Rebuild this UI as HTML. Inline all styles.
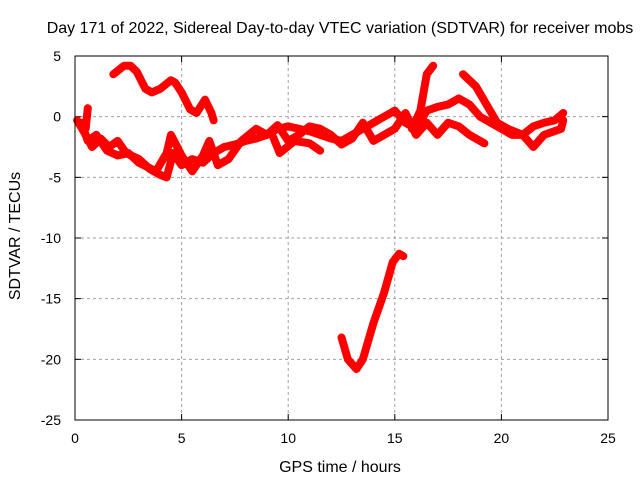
<!DOCTYPE html>
<html><head><meta charset="utf-8"><style>
body{margin:0;background:#fff}
svg text{font-family:"Liberation Sans",sans-serif;font-size:14px;fill:#000}
svg text.big{font-size:16px}
</style></head><body>
<svg id="c" width="640" height="480">
<rect width="640" height="480" fill="#fff"/>
<g id="grid"></g><g id="ticks"></g><g id="series"></g>
<rect x="75" y="56" width="533" height="364" fill="none" stroke="#000" stroke-width="1"/>
<text class="big" x="340" y="33" text-anchor="middle">Day 171 of 2022, Sidereal Day-to-day VTEC variation (SDTVAR) for receiver mobs</text>
<text class="big" x="340" y="472" text-anchor="middle">GPS time / hours</text>
<text class="big" x="0" y="0" text-anchor="middle" transform="translate(20,236) rotate(-90)">SDTVAR / TECUs</text>
</svg>
<script>
const xTicks=[0,5,10,15,20,25];
const yTicks=[5,0,-5,-10,-15,-20,-25];
const trackUpper=[[1.8,3.5],[2.3,4.2],[2.6,4.2],[2.9,3.7],[3.3,2.3],[3.6,2.0],[4.0,2.3],[4.5,3.0],[4.7,2.8],[5.0,2.0],[5.4,0.6],[5.7,0.3],[6.1,1.4],[6.4,0.3],[6.5,-0.3]];
const trackMain=[[0.1,-0.3],[0.5,-1.5],[0.8,-2.5],[1.2,-1.8],[1.6,-2.5],[2.0,-2.0],[2.4,-3.0],[3.0,-3.5],[3.5,-4.3],[4.0,-4.8],[4.3,-5.0],[4.6,-3.0],[5.0,-4.0],[5.5,-3.5],[6.0,-3.8],[6.5,-3.0],[7.0,-2.5],[7.5,-2.3],[8.0,-2.0],[8.5,-1.8],[9.0,-1.5],[9.5,-1.0],[10,-0.8],[10.5,-1.0],[11,-1.2],[11.5,-1.5],[12.0,-1.8],[12.5,-2.0],[13.0,-1.5],[13.5,-1.0],[14,-0.5],[14.5,0.0],[15,0.5],[15.5,-0.5],[16,-1.0],[16.5,0.5],[17,0.8],[17.5,1.0],[18,1.5],[18.5,1.0],[19,0.0],[19.5,-0.5],[20,-1.0],[20.5,-1.5],[21,-1.5],[21.5,-0.8],[22,-0.5],[22.5,-0.3],[22.9,0.3]];
const trackSecond=[[0.3,-0.5],[0.6,-2.0],[1.0,-1.5],[1.5,-2.8],[2.0,-3.2],[2.5,-3.0],[3.0,-3.8],[3.8,-4.5],[4.3,-3.0],[4.5,-1.5],[5.0,-3.2],[5.5,-4.5],[6.0,-3.2],[6.3,-2.0],[6.7,-4.0],[7.2,-3.5],[7.8,-2.0],[8.5,-1.0],[9.0,-1.5],[9.5,-0.7],[10.0,-2.0],[10.5,-1.5],[11.0,-0.8],[11.5,-1.0],[12.0,-1.5],[12.5,-2.3],[13.0,-1.8],[13.5,-0.5],[14.0,-2.0],[14.5,-1.5],[15.0,-1.0],[15.5,0.3],[16.0,-1.5],[16.5,-0.5],[17.0,-1.5],[17.5,-0.5],[18.0,-0.8],[18.5,-1.5],[19.2,-2.2]];
const trackSpike=[[0.5,-1.0],[0.6,0.7]];
const trackSpike2=[[15.8,-1.0],[16.2,0.5],[16.5,3.5],[16.8,4.2]];
const trackLate=[[18.2,3.5],[18.8,2.5],[19.3,1.0],[19.8,-0.5],[20.3,-1.0],[21.0,-1.5],[21.5,-2.5],[22.0,-1.5],[22.8,-1.0],[22.9,-0.3]];
const trackMid=[[9.3,-1.7],[9.6,-3.0],[10.3,-2.0],[11,-2.2],[11.5,-2.8]];
const trackDrop=[[12.5,-18.2],[12.8,-20.0],[13.2,-20.8],[13.5,-20.0],[14.0,-17.0],[14.5,-14.5],[14.9,-12.0],[15.2,-11.3],[15.4,-11.5]];
const tracks=[trackUpper,trackMain,trackSecond,trackSpike,trackSpike2,trackLate,trackMid,trackDrop];
const NS="http://www.w3.org/2000/svg";
const X=h=>75+h*533/25, Y=v=>56+(5-v)*364/30;
const g=document.getElementById('grid'),t=document.getElementById('ticks'),s=document.getElementById('series');
function mk(p,tag,a){const e=document.createElementNS(NS,tag);for(const k in a)e.setAttribute(k,a[k]);p.appendChild(e);return e;}
xTicks.forEach(v=>{const x=X(v);
 if(v>0&&v<25){const l=mk(g,'line',{x1:x,x2:x,y1:56,y2:420,stroke:'#a0a0a0','stroke-dasharray':'3,3'});
 
 }
 mk(t,'line',{x1:x,x2:x,y1:420,y2:414,stroke:'#000'});mk(t,'line',{x1:x,x2:x,y1:56,y2:62,stroke:'#000'});
 const tx=mk(t,'text',{x:x,y:443,'text-anchor':'middle'});tx.textContent=v;
 
 });
yTicks.forEach(v=>{const y=Y(v);
 if(v<5&&v>-25){const l=mk(g,'line',{x1:75,x2:608,y1:y,y2:y,stroke:'#a0a0a0','stroke-dasharray':'3,3'});
 
 }
 mk(t,'line',{x1:75,x2:81,y1:y,y2:y,stroke:'#000'});mk(t,'line',{x1:608,x2:602,y1:y,y2:y,stroke:'#000'});
 const tx=mk(t,'text',{x:61,y:y+5,'text-anchor':'end'});tx.textContent=v;
 
 });
tracks.forEach((tr,i)=>{
 const pl=mk(s,'polyline',{points:tr.map(p=>X(p[0])+','+Y(p[1])).join(' '),fill:'none',stroke:'#ff0000','stroke-width':8,'stroke-linejoin':'round','stroke-linecap':'round'});
 
 
});
</script>
</body></html>
